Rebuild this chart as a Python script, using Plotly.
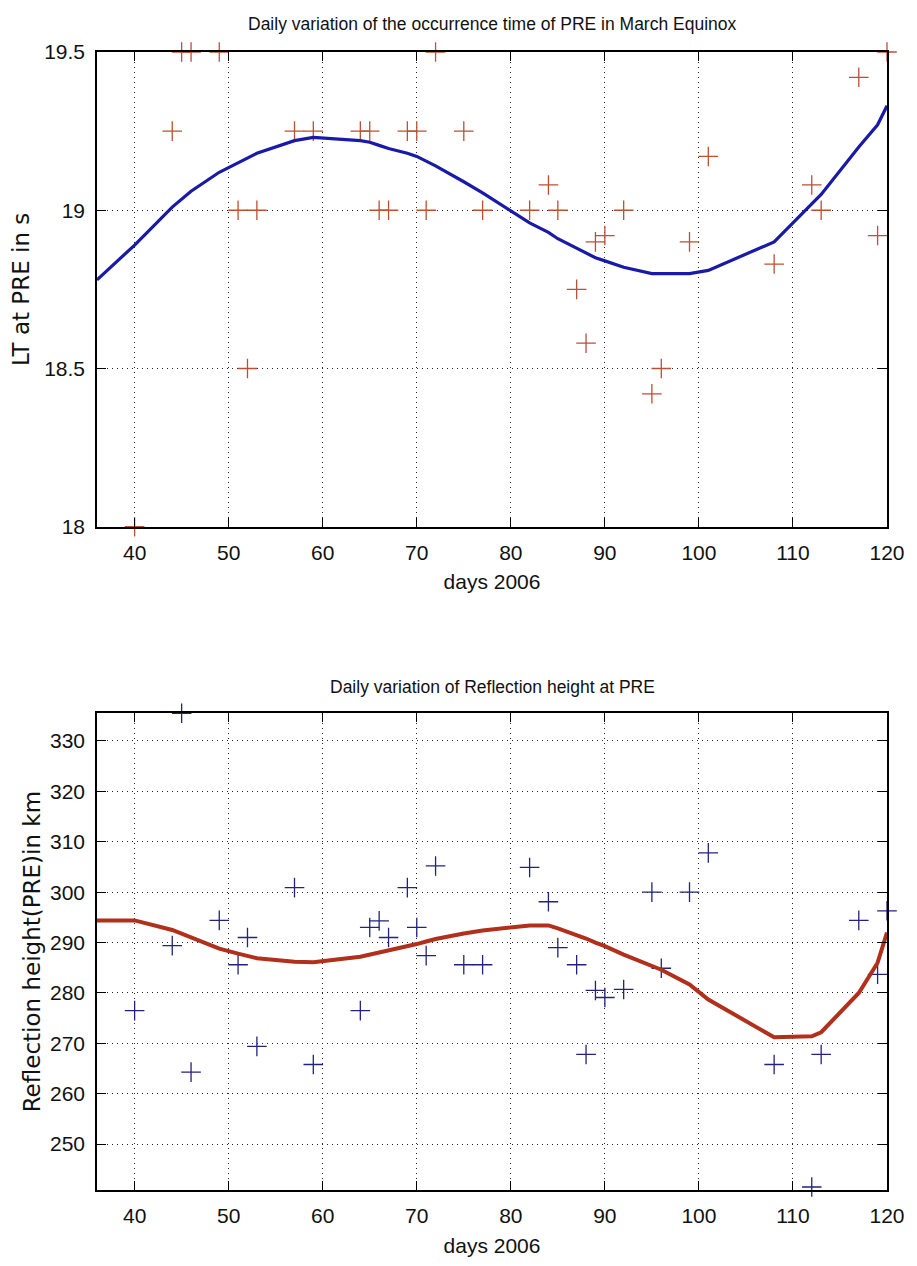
import plotly.graph_objects as go

# ---- data ----
days = [40, 44, 45, 46, 49, 51, 52, 53, 57, 59, 64, 65, 66, 67, 69, 70, 71, 72, 75, 77,
        82, 84, 85, 87, 88, 89, 90, 92, 95, 96, 99, 101, 108, 112, 113, 117, 119, 120]
lt_pre = [18.0, 19.25, 19.5, 19.5, 19.5, 19.0, 18.5, 19.0, 19.25, 19.25, 19.25, 19.25, 19.0, 19.0,
          19.25, 19.25, 19.0, 19.5, 19.25, 19.0, 19.0, 19.08, 19.0, 18.75, 18.58, 18.9, 18.92, 19.0,
          18.42, 18.5, 18.9, 19.17, 18.83, 19.08, 19.0, 19.42, 18.92, 19.5]
height_pre = [276.5, 289.4, 335.5, 264.3, 294.4, 285.6, 291.0, 269.4, 300.9, 265.8, 276.5, 293.0,
              294.3, 291.0, 300.9, 293.0, 287.4, 305.2, 285.6, 285.6, 304.9, 298.1, 289.0, 285.6,
              267.8, 280.5, 279.1, 280.7, 300.0, 284.9, 300.0, 307.8, 265.8, 241.5, 267.8, 294.4,
              283.7, 296.3]

fit_days = [36] + days
lt_fit = [18.78, 18.89, 19.01, 19.035, 19.06, 19.12, 19.15, 19.165, 19.18, 19.22, 19.23, 19.22,
          19.215, 19.205, 19.195, 19.18, 19.17, 19.155, 19.14, 19.09, 19.055, 18.96, 18.93, 18.91,
          18.88, 18.865, 18.85, 18.84, 18.82, 18.80, 18.80, 18.80, 18.81, 18.90, 19.02, 19.05,
          19.20, 19.27, 19.33]
height_fit = [294.4, 294.4, 292.5, 291.8, 291.0, 288.8, 287.8, 287.3, 286.9, 286.2, 286.1, 287.2,
              287.6, 288.0, 288.5, 289.3, 289.7, 290.2, 290.7, 291.8, 292.4, 293.4, 293.4, 292.8,
              291.6, 290.8, 290.0, 289.3, 287.6, 285.3, 284.6, 281.7, 278.7, 271.2, 271.4, 272.2,
              280.0, 286.0, 292.0]

x_ticks = [40, 50, 60, 70, 80, 90, 100, 110, 120]
lt_ticks = [18, 18.5, 19, 19.5]
lt_tick_labels = ["18", "18.5", "19", "19.5"]
h_ticks = [250, 260, 270, 280, 290, 300, 310, 320, 330]

title_top = "Daily variation of the occurrence time of PRE in March Equinox"
title_bottom = "Daily variation of Reflection height at PRE"

SANS = "Liberation Sans, Arial, sans-serif"
WIDE = "DejaVu Sans, Liberation Sans, sans-serif"

# page body has an 8px margin: figure is sized/placed to compensate
W, H = 909, 1258
L, R, T, B = 88, W - 890, 44, H - 1185
plot_h = H - T - B

fig = go.Figure()

# top panel
fig.add_trace(go.Scatter(x=days, y=lt_pre, mode="markers", cliponaxis=False,
                         marker=dict(symbol="cross-thin", size=14, color="#bd4f35",
                                     line=dict(width=1.3, color="#bd4f35")),
                         xaxis="x", yaxis="y", showlegend=False))
fig.add_trace(go.Scatter(x=fit_days, y=lt_fit, mode="lines",
                         line=dict(color="#1a1aa8", width=3.2),
                         xaxis="x", yaxis="y", showlegend=False))
# bottom panel
fig.add_trace(go.Scatter(x=days, y=height_pre, mode="markers", cliponaxis=False,
                         marker=dict(symbol="cross-thin", size=14, color="#23237e",
                                     line=dict(width=1.3, color="#23237e")),
                         xaxis="x2", yaxis="y2", showlegend=False))
fig.add_trace(go.Scatter(x=fit_days, y=height_fit, mode="lines",
                         line=dict(color="#b0301c", width=4),
                         xaxis="x2", yaxis="y2", showlegend=False))

axis_common = dict(showline=True, linecolor="black", linewidth=1.5, mirror="ticks",
                   ticks="inside", ticklen=9, tickcolor="black", tickwidth=1.3,
                   showgrid=True, gridcolor="#222222", gridwidth=1, griddash="1px,4px",
                   zeroline=False, tickfont=dict(family=SANS, size=21, color="#111"))

top_dom = [1 - (528 - 52) / plot_h, 1.0]
bot_dom = [0.0, 1 - (715 - 52) / plot_h]

xtitle_font = dict(family=SANS, size=21, color="#111")
ytitle_font = dict(family=WIDE, size=23, color="#111")

fig.update_layout(
    width=W, height=H,
    margin=dict(l=L, r=R, t=T, b=B),
    paper_bgcolor="white", plot_bgcolor="white",
    xaxis=dict(domain=[0, 1], range=[36, 120], tickvals=x_ticks, anchor="y",
               title=dict(text="days 2006", font=xtitle_font, standoff=12),
               ticklabelstandoff=6, **axis_common),
    yaxis=dict(domain=top_dom, range=[18, 19.5], tickvals=lt_ticks, ticktext=lt_tick_labels,
               anchor="x",
               title=dict(text="LT at PRE in s", font=ytitle_font, standoff=8),
               ticklabelstandoff=6, **axis_common),
    xaxis2=dict(domain=[0, 1], range=[36, 120], tickvals=x_ticks, anchor="y2",
                title=dict(text="days 2006", font=xtitle_font, standoff=12),
                ticklabelstandoff=6, **axis_common),
    yaxis2=dict(domain=bot_dom, range=[240.9, 335.5], tickvals=h_ticks, anchor="x2",
                title=dict(text="Reflection height(PRE)in km", font=ytitle_font, standoff=3),
                ticklabelstandoff=6, **axis_common),
    annotations=[
        dict(text=title_top, xref="paper", yref="paper", x=0.5, y=top_dom[1], xanchor="center",
             yanchor="bottom", yshift=16, showarrow=False,
             font=dict(family=SANS, size=17.5, color="#111")),
        dict(text=title_bottom, xref="paper", yref="paper", x=0.5, y=bot_dom[1], xanchor="center",
             yanchor="bottom", yshift=14, showarrow=False,
             font=dict(family=SANS, size=17.5, color="#111")),
    ],
)

fig.write_html("out.html")
